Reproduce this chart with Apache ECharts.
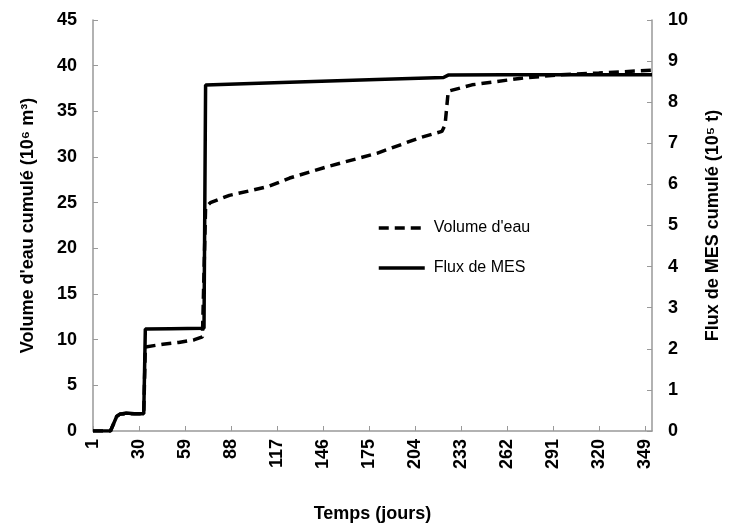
<!DOCTYPE html>
<html>
<head>
<meta charset="utf-8">
<script src="https://cdn.jsdelivr.net/npm/echarts@6/dist/echarts.min.js"></script>
<style>
  html, body { margin: 0; padding: 0; background: #fff; }
  #chart { width: 738px; height: 523px; }
</style>
</head>
<body>
<div id="chart"></div>
<script>
// jours (axe des x), premier jour = 1
const volumeDays = [1, 12, 14, 16, 18, 25, 33, 34, 45, 55, 65, 70, 71, 72, 75, 87, 100, 112, 125, 150, 180, 207, 221, 223, 225, 240, 270, 295, 320, 353.5];
// volume d'eau cumulé (10^6 m3)
const volumeValues = [0, 0, 0.8, 1.6, 1.85, 1.9, 1.9, 9.2, 9.5, 9.7, 10.0, 10.3, 10.5, 24.5, 25.0, 25.8, 26.3, 26.8, 27.7, 29.0, 30.4, 32.1, 32.8, 33.5, 37.2, 37.9, 38.6, 39.0, 39.2, 39.5];

const fluxDays = [1, 12, 14, 16, 18, 22, 27, 33, 34, 50, 71, 72, 73, 120, 180, 222, 225, 260, 353.5];
// flux de MES cumulé (10^5 t)
const fluxValues = [0, 0, 0.18, 0.36, 0.41, 0.44, 0.42, 0.42, 2.48, 2.49, 2.5, 8.42, 8.45, 8.48, 8.55, 8.6, 8.66, 8.67, 8.67];

const xTickStep = 29;
const xMaxDay = 353.5;

//construit les paires [x, y] ; l'axe des x est décalé d'un jour pour que les graduations tombent sur 1, 30, 59...
function toPairs(days, values) {
  return days.map((d, i) => [d - 1, values[i]]);
}

const axisColor = "#999";
const font = "'Liberation Sans', Arial, sans-serif";
const boldText = { fontFamily: font, fontSize: 18, fontWeight: "bold", color: "#000" };

const chart = echarts.init(document.getElementById("chart"), null, { renderer: "canvas" });

chart.setOption({
  animation: false,
  grid: { left: 93, right: 86, top: 20, bottom: 92, containLabel: false, outerBoundsMode: "none" },
  legend: {
    orient: "vertical",
    left: 377,
    top: 220,
    padding: 0,
    itemWidth: 46,
    itemHeight: 14,
    itemGap: 24,
    itemStyle: { opacity: 0 },
    lineStyle: { width: 3.5 },
    textStyle: { fontFamily: font, fontSize: 16, color: "#000", padding: [0, 0, 0, 4] },
    data: ["Volume d'eau", "Flux de MES"],
  },
  xAxis: {
    type: "value",
    min: 0,
    max: xMaxDay - 1,
    interval: xTickStep,
    name: "Temps (jours)",
    nameLocation: "middle",
    nameGap: 74,
    nameTextStyle: boldText,
    axisLine: { lineStyle: { color: axisColor, width: 1.5 } },
    axisTick: { inside: true, length: 5, lineStyle: { color: axisColor } },
    splitLine: { show: false },
    axisLabel: {
      ...boldText,
      rotate: 90,
      margin: 8,
      showMaxLabel: false,
      formatter: (v) => (Math.abs(v - (xMaxDay - 1)) < 0.01 ? "" : String(v + 1)),
    },
  },
  yAxis: [
    {
      type: "value",
      min: 0,
      max: 45,
      interval: 5,
      name: "Volume d'eau cumulé (10⁶ m³)",
      nameLocation: "middle",
      nameRotate: 90,
      nameGap: 56,
      nameTextStyle: boldText,
      axisLine: { show: true, lineStyle: { color: axisColor, width: 1.5 } },
      axisTick: { show: true, inside: true, length: 5, lineStyle: { color: axisColor } },
      splitLine: { show: false },
      axisLabel: { ...boldText, margin: 16 },
    },
    {
      type: "value",
      min: 0,
      max: 10,
      interval: 1,
      name: "Flux de MES cumulé (10⁵ t)",
      nameLocation: "middle",
      nameRotate: 90,
      nameGap: 52,
      nameTextStyle: boldText,
      axisLine: { show: true, lineStyle: { color: axisColor, width: 1.5 } },
      axisTick: { show: true, inside: true, length: 5, lineStyle: { color: axisColor } },
      splitLine: { show: false },
      axisLabel: { ...boldText, margin: 16 },
    },
  ],
  series: [
    {
      name: "Volume d'eau",
      type: "line",
      yAxisIndex: 0,
      symbol: "none",
      data: toPairs(volumeDays, volumeValues),
      lineStyle: { color: "#000", width: 3.5, type: [10, 6] },
      itemStyle: { color: "#000" },
    },
    {
      name: "Flux de MES",
      type: "line",
      yAxisIndex: 1,
      symbol: "none",
      data: toPairs(fluxDays, fluxValues),
      lineStyle: { color: "#000", width: 3.5 },
      itemStyle: { color: "#000" },
    },
  ],
});
</script>
</body>
</html>
